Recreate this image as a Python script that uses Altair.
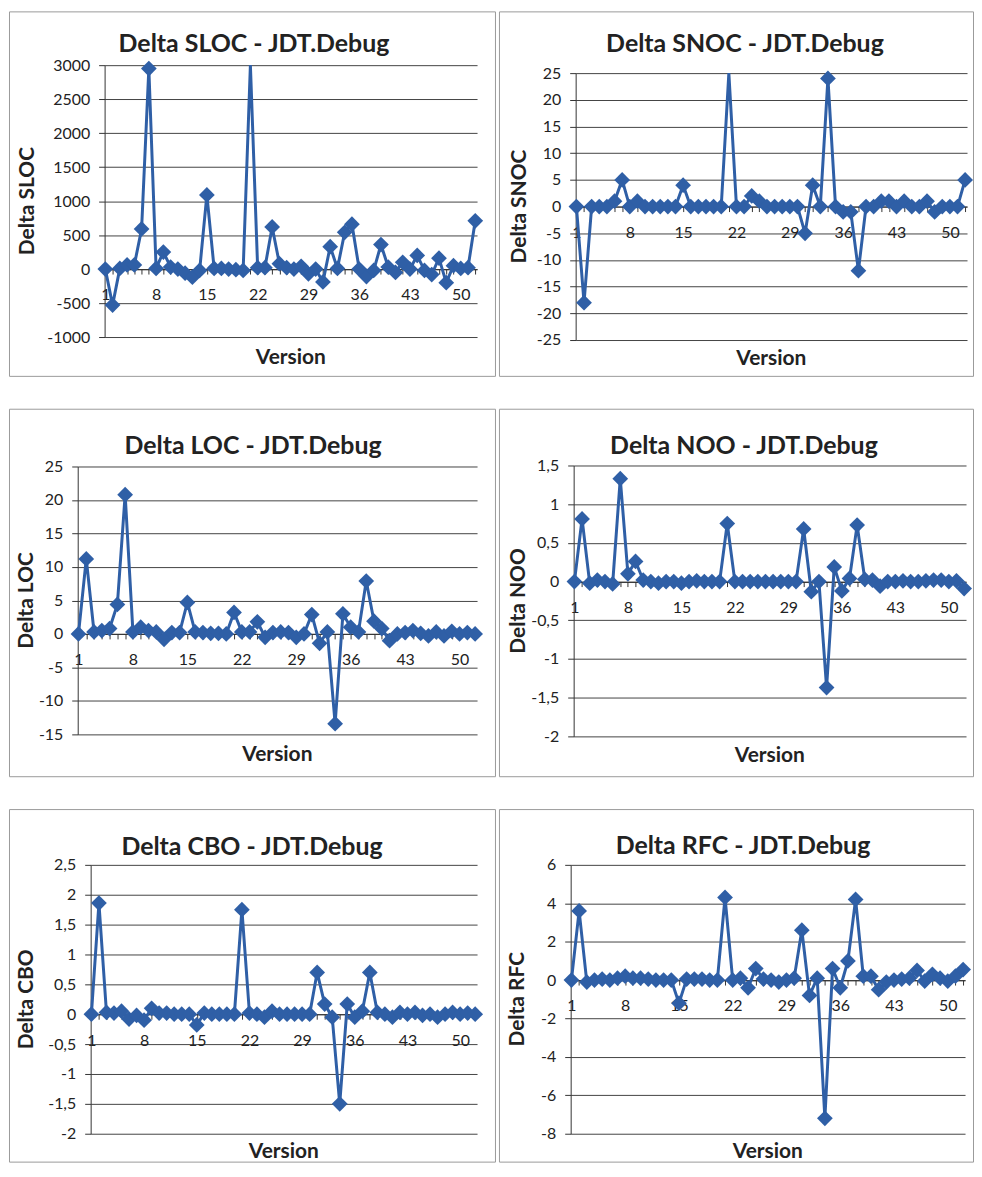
import altair as alt
import pandas as pd

# ---------------- data ----------------
versions = list(range(1, 53))
x_label_versions = [1, 8, 15, 22, 29, 36, 43, 50]

sloc = [0, -530, 10, 60, 60, 590, 2950, 10, 250, 30, 0, -60, -120, -20, 1090, 10, 10, 0, -10, -20,
        30000, 20, 20, 620, 80, 20, 0, 40, -70, 0, -190, 330, 10, 540, 660, 0, -110, -20, 360, 30,
        -50, 100, 0, 200, -20, -80, 160, -200, 50, 10, 20, 710]
snoc = [0, -18, 0, 0, 0, 1, 5, 0, 1, 0, 0, 0, 0, 0, 4, 0, 0, 0, 0, 0,
        300, 0, 0, 2, 1, 0, 0, 0, 0, 0, -5, 4, 0, 24, 0, -1, -1, -12, 0, 0,
        1, 1, 0, 1, 0, 0, 1, -1, 0, 0, 0, 5]
loc = [0, 11.2, 0.3, 0.5, 0.8, 4.4, 20.8, 0.3, 1.0, 0.5, 0.3, -0.8, 0.2, 0.2, 4.7, 0.3, 0.2, 0.1, 0.1, 0,
       3.2, 0.3, 0.3, 1.8, -0.5, 0.2, 0.3, 0.2, -0.5, 0, 2.9, -1.4, 0.3, -13.4, 3.0, 1.0, 0.3, 7.9, 1.9, 0.8,
       -1.0, 0, 0.2, 0.5, 0.1, -0.3, 0.3, -0.3, 0.4, 0, 0.2, 0]
noo = [0, 0.81, -0.02, 0.02, 0, -0.03, 1.33, 0.1, 0.26, 0.02, 0, -0.02, 0, 0, -0.02, 0, 0.01, 0, 0, 0,
       0.75, 0, 0, 0, 0, 0, 0, 0, 0, 0, 0.68, -0.13, 0, -1.37, 0.19, -0.12, 0.04, 0.73, 0.03, 0.02,
       -0.06, 0, 0, 0.01, 0, 0, 0.01, 0.02, 0.02, 0, 0.01, -0.09]
cbo = [0, 1.86, 0.03, 0.02, 0.05, -0.08, -0.02, -0.1, 0.1, 0.02, 0.02, 0, 0, 0, -0.18, 0.02, 0, 0, 0, 0,
       1.75, 0.02, 0, -0.05, 0.05, 0, 0, 0, 0, 0, 0.7, 0.17, -0.05, -1.5, 0.17, -0.05, 0.05, 0.7, 0.03, 0,
       -0.05, 0.03, 0, 0.03, -0.02, 0, -0.05, 0, 0.03, 0, 0.02, 0]
rfc = [0, 3.6, -0.1, 0, 0.05, 0, 0.1, 0.2, 0.1, 0.1, 0.05, 0, 0, 0, -1.2, 0.05, 0.05, 0.05, 0, 0,
       4.3, 0, 0.1, -0.4, 0.6, 0.05, 0, -0.1, 0, 0.1, 2.6, -0.8, 0.1, -7.2, 0.6, -0.4, 1.0, 4.2, 0.2, 0.2,
       -0.5, -0.1, 0, 0.05, 0.1, 0.5, -0.05, 0.3, 0.1, -0.05, 0.2, 0.55]

sloc_ticks = [-1000, -500, 0, 500, 1000, 1500, 2000, 2500, 3000]
snoc_ticks = [-25, -20, -15, -10, -5, 0, 5, 10, 15, 20, 25]
loc_ticks = [-15, -10, -5, 0, 5, 10, 15, 20, 25]
noo_ticks = [-2, -1.5, -1, -0.5, 0, 0.5, 1, 1.5]
cbo_ticks = [-2, -1.5, -1, -0.5, 0, 0.5, 1, 1.5, 2, 2.5]
rfc_ticks = [-8, -6, -4, -2, 0, 2, 4, 6]

# ---------------- style ----------------
BLUE = "#2f5fa6"
FONT = "Lato"
TEXT = "#222222"
GRID = "#444444"
FRAME = "#9a9a9a"
PAD = {"left": 0, "top": 0, "right": 0, "bottom": 0}

x_label_expr = "indexof([" + ",".join(str(v) for v in x_label_versions) + "], datum.value) >= 0 ? datum.label : ''"
y_label_expr = "replace(replace(datum.label, '\u2212', '-'), '.', ',')"


def make_panel(values, ticks, yfmt, title, ytitle, FW, FH, pl, pt, W, H, tpos, ytx, xt_dy):
    """FW/FH: panel (frame) size; pl/pt: plot-area offset inside the frame; W/H: plot-area size."""
    ymin, ymax = ticks[0], ticks[-1]
    y_zero = pt + H * ymax / (ymax - ymin)
    df = pd.DataFrame({"version": versions, "value": values})

    x = alt.X("version:Q",
              scale=alt.Scale(domain=[0.9, 52.25], range=[pl, pl + W], nice=False, zero=False),
              axis=alt.Axis(values=versions, orient="bottom", offset=-(FH - y_zero), format="d",
                            labelExpr=x_label_expr, grid=False, domainColor="#333333",
                            tickColor="#333333", tickSize=5, labelPadding=13, labelFont=FONT,
                            labelFontSize=16, labelColor=TEXT, labelOverlap=False,
                            labelFlush=False, title=None))
    y = alt.Y("value:Q",
              scale=alt.Scale(domain=[ymin, ymax], range=[pt + H, pt], nice=False, zero=False,
                              clamp=True),
              axis=alt.Axis(values=ticks, format=yfmt, labelExpr=y_label_expr, grid=True,
                            orient="left", offset=-pl,
                            gridColor=GRID, gridWidth=1, domainColor="#333333",
                            tickColor="#333333", tickSize=6, labelPadding=9, labelFont=FONT,
                            labelFontSize=16, labelColor=TEXT, title=None))

    base = alt.Chart(df)
    line = base.mark_line(color=BLUE, strokeWidth=3, clip=True).encode(x=x, y=y)
    pts = base.transform_filter(
        (alt.datum.value <= ymax) & (alt.datum.value >= ymin)
    ).mark_point(shape="diamond", filled=True, size=250, color=BLUE, opacity=1).encode(x=x, y=y)

    tdf = pd.DataFrame({"t": [title], "yt": [ytitle], "xt": ["Version"]})
    tb = alt.Chart(tdf)
    title_mark = tb.mark_text(font=FONT, fontSize=25, fontWeight="bold", color=TEXT,
                              align="center", baseline="alphabetic").encode(
        x=alt.value(tpos[0]), y=alt.value(tpos[1]), text="t:N")
    ytitle_mark = tb.mark_text(font=FONT, fontSize=21, fontWeight="bold", color=TEXT,
                               align="center", baseline="middle", angle=270).encode(
        x=alt.value(ytx), y=alt.value(pt + H / 2), text="yt:N")
    xtitle_mark = tb.mark_text(font=FONT, fontSize=21, fontWeight="bold", color=TEXT,
                               align="center", baseline="alphabetic").encode(
        x=alt.value(pl + W / 2), y=alt.value(pt + H + xt_dy), text="xt:N")

    return alt.layer(line, pts, title_mark, ytitle_mark, xtitle_mark).properties(
        width=FW, height=FH)


p1 = make_panel(sloc, sloc_ticks, "d", "Delta SLOC - JDT.Debug", "Delta SLOC",
                488, 366, 96, 54, 374, 273, (246, 41), 19, 27)
p2 = make_panel(snoc, snoc_ticks, "d", "Delta SNOC - JDT.Debug", "Delta SNOC",
                476, 366, 77, 62, 393, 268, (247, 41), 21, 25)
p3 = make_panel(loc, loc_ticks, "d", "Delta LOC - JDT.Debug", "Delta LOC",
                488, 369, 69, 58, 401, 269, (245, 45), 18, 27)
p4 = make_panel(noo, noo_ticks, ".1~f", "Delta NOO - JDT.Debug", "Delta NOO",
                476, 369, 75, 57, 394, 272, (246, 45), 20, 26)
p5 = make_panel(cbo, cbo_ticks, ".1~f", "Delta CBO - JDT.Debug", "Delta CBO",
                488, 354, 82, 56, 388, 270, (244, 46), 18, 24)
p6 = make_panel(rfc, rfc_ticks, "d", "Delta RFC - JDT.Debug", "Delta RFC",
                476, 354, 72, 56, 396, 270, (245, 45), 19, 24)

chart = alt.concat(p1, p2, p3, p4, p5, p6, columns=2).properties(
    spacing={"row": 31, "column": 2},
    padding=PAD,
).configure_view(stroke=FRAME, strokeWidth=1)

chart.save("out.html", embed_options={"renderer": "svg", "actions": False})
